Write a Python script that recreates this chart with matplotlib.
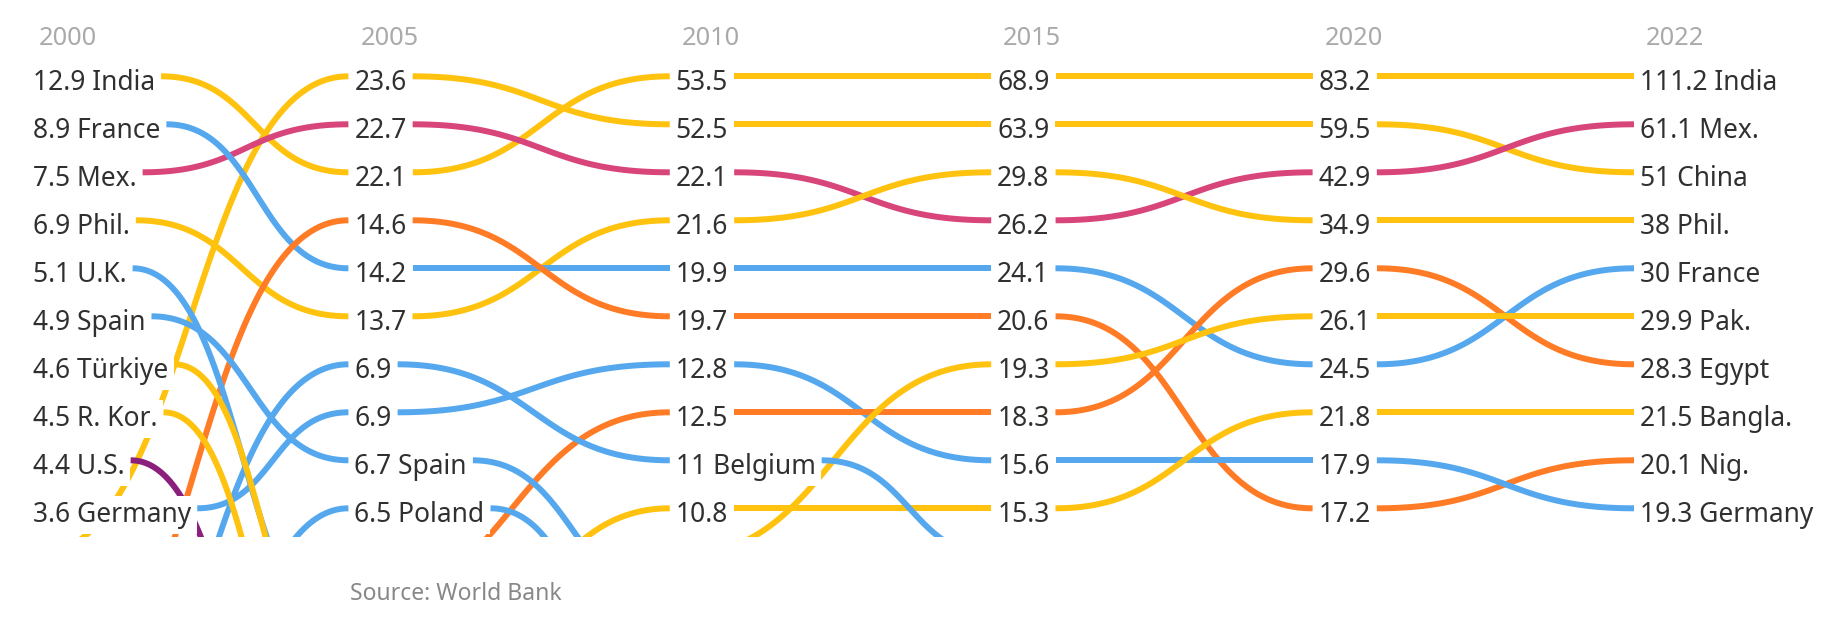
import matplotlib
matplotlib.use("Agg")
import matplotlib.pyplot as plt
import numpy as np
from matplotlib.patches import Rectangle

plt.rcParams['font.family'] = ['Noto Sans', 'DejaVu Sans']

years = ["2000", "2005", "2010", "2015", "2020", "2022"]

# rank in each year (None = not drawn) and value (None = below the top ten)
india_rank = [1, 3, 1, 1, 1, 1]
india_val = [12.9, 22.1, 53.5, 68.9, 83.2, 111.2]
china_rank = [11, 1, 2, 2, 2, 3]
china_val = [None, 23.6, 52.5, 63.9, 59.5, 51]
mex_rank = [3, 2, 3, 4, 3, 2]
mex_val = [7.5, 22.7, 22.1, 26.2, 42.9, 61.1]
phil_rank = [4, 6, 4, 3, 4, 4]
phil_val = [6.9, 13.7, 21.6, 29.8, 34.9, 38]
france_rank = [2, 5, 5, 5, 7, 5]
france_val = [8.9, 14.2, 19.9, 24.1, 24.5, 30]
nigeria_rank = [15, 4, 6, 6, 10, 9]
nigeria_val = [None, 14.6, 19.7, 20.6, 17.2, 20.1]
germany_rank = [10, 8, 7, 9, 9, 10]
germany_val = [3.6, 6.9, 12.8, 15.6, 17.9, 19.3]
egypt_rank = [None, 12, 8, 8, 5, 7]
egypt_val = [None, None, 12.5, 18.3, 29.6, 28.3]
pak_rank = [None, None, 11, 7, 6, 6]
pak_val = [None, None, None, 19.3, 26.1, 29.9]
bangla_rank = [None, 15, 10, 10, 8, 8]
bangla_val = [None, None, 10.8, 15.3, 21.8, 21.5]
belgium_rank = [18, 7, 9, 11, None, None]
belgium_val = [None, 6.9, 11, None, None, None]
spain_rank = [6, 9, 12, None, None, None]
spain_val = [4.9, 6.7, None, None, None, None]
poland_rank = [24, 10, 14, None, None, None]
poland_val = [None, 6.5, None, None, None, None]
uk_rank = [5, 13, None, None, None, None]
uk_val = [5.1, None, None, None, None, None]
turkiye_rank = [7, 14, None, None, None, None]
turkiye_val = [4.6, None, None, None, None, None]
korea_rank = [8, 16, None, None, None, None]
korea_val = [4.5, None, None, None, None, None]
us_rank = [9, 18, None, None, None, None]
us_val = [4.4, None, None, None, None, None]

asia = "#FFC20E"
europe = "#55A8EE"
latam = "#D8457A"
africa = "#FF7B25"
namerica = "#8A1F7C"

series = [
    ("India", asia, india_rank, india_val),
    ("China", asia, china_rank, china_val),
    ("Mex.", latam, mex_rank, mex_val),
    ("Phil.", asia, phil_rank, phil_val),
    ("France", europe, france_rank, france_val),
    ("Nig.", africa, nigeria_rank, nigeria_val),
    ("Germany", europe, germany_rank, germany_val),
    ("Egypt", africa, egypt_rank, egypt_val),
    ("Pak.", asia, pak_rank, pak_val),
    ("Bangla.", asia, bangla_rank, bangla_val),
    ("Belgium", europe, belgium_rank, belgium_val),
    ("Spain", europe, spain_rank, spain_val),
    ("Poland", europe, poland_rank, poland_val),
    ("U.K.", europe, uk_rank, uk_val),
    ("Türkiye", asia, turkiye_rank, turkiye_val),
    ("R. Kor.", asia, korea_rank, korea_val),
    ("U.S.", namerica, us_rank, us_val),
]

W, H = 1841, 630
fig = plt.figure(figsize=(W / 100, H / 100), dpi=100)
ax = fig.add_axes([0, 0, 1, 1])
ax.set_xlim(0, W)
ax.set_ylim(H, 0)
ax.axis('off')

x0_col, dx_col = 33, 321.4
y0_row, dy_row = 76.3, 48.0
clip_bottom = 537
fs = 19.0
gap = 6


def col_x(i):
    return x0_col + dx_col * i


def row_y(r):
    return y0_row + dy_row * (r - 1)


hfs = 18.3
for i, yr in enumerate(years):
    ax.text(col_x(i) + 6, 36 + 0.36 * hfs * 100 / 72, yr, color="#AAAAAA", fontsize=hfs,
            va='baseline', ha='left')

# labels first, so the lines can start where the text ends
font_px = fs * 100 / 72
label_end = {}
for name, c, ranks, vals in series:
    for i in range(len(years)):
        v = vals[i]
        if v is None:
            continue
        s = f"{v:g}"
        nxt_hidden = i < len(years) - 1 and (ranks[i + 1] is None or ranks[i + 1] > 10)
        if i == 0 or i == len(years) - 1 or nxt_hidden:
            s += " " + name
        t = ax.text(col_x(i), row_y(ranks[i]) + 4 + 0.36 * font_px, s, fontsize=fs, color="#303030",
                    ha='left', va='baseline', zorder=5,
                    bbox=dict(boxstyle='square,pad=0.2', fc='white', ec='none'))
        label_end[(name, i)] = t

fig.canvas.draw()
rend = fig.canvas.get_renderer()
inv = ax.transData.inverted()
for k, t in label_end.items():
    bb = t.get_window_extent(rend)
    label_end[k] = inv.transform((bb.x1, bb.y0))[0]

clip = Rectangle((0, 0), W, clip_bottom, transform=ax.transData)
tt = np.linspace(0, 1, 120)
for name, c, ranks, vals in series:
    for i in range(len(years) - 1):
        r0, r1 = ranks[i], ranks[i + 1]
        if r0 is None or r1 is None or (r0 > 10 and r1 > 10):
            continue
        xa = label_end[(name, i)] + gap if (name, i) in label_end else col_x(i)
        xb = col_x(i + 1) - gap if (name, i + 1) in label_end else col_x(i + 1)
        ya, yb = row_y(r0), row_y(r1)
        xs = xa + (xb - xa) * (1.5 * tt * (1 - tt) + tt ** 3)
        ys = ya + (yb - ya) * (3 * tt ** 2 - 2 * tt ** 3)
        ln, = ax.plot(xs, ys, color=c, lw=4.3, solid_capstyle='butt', zorder=2)
        ln.set_clip_path(clip)

ax.text(350, 594, "Source: World Bank", color="#888888", fontsize=16.5, va='center', ha='left')

fig.savefig("out.png", dpi=100, facecolor='white')
